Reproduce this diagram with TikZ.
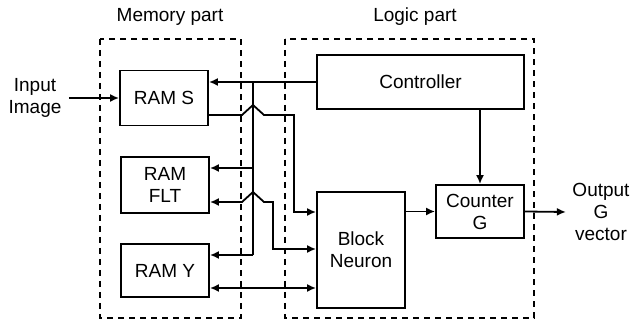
\documentclass[tikz,border=0pt]{standalone}
\usepackage{fontspec}
\setmainfont{Liberation Sans}
\usepackage{tikz}
\usetikzlibrary{positioning,arrows.meta,calc}

\begin{document}
\begin{tikzpicture}[
  x=1pt, y=-1pt,
  every node/.style={font=\fontsize{19}{22}\selectfont},
  blk/.style={draw, line width=1.8pt, inner sep=1pt, align=center},
  part/.style={draw, line width=1.8pt, dash pattern=on 6pt off 5pt},
  arr/.style={-{Latex[length=9pt,width=8pt]}, line width=1.8pt},
  darr/.style={{Latex[length=9pt,width=8pt]}-{Latex[length=9pt,width=8pt]}, line width=1.8pt},
  wire/.style={line width=1.8pt},
]
  \useasboundingbox (0,0) rectangle (630,323);

  % Dashed part frames with titles
  \draw[part] (100,39) rectangle (241,318);
  \draw[part] (285,39) rectangle (534,318);
  \node (memlbl)   at (170,17) {Memory part};
  \node (logiclbl) at (415,17) {Logic part};

  % Memory blocks
  \node[blk, minimum width=88pt, minimum height=55pt] (rams)   at (164,98)    {RAM S};
  \node[blk, minimum width=88pt, minimum height=56pt] (ramflt) at (165,185)   {RAM\\FLT};
  \node[blk, minimum width=88pt, minimum height=53pt] (ramy)   at (165,270.5) {RAM Y};

  % Logic blocks
  \node[blk, minimum width=207pt, minimum height=54pt] (ctrl)    at (420.5,82) {Controller};
  \node[blk, minimum width=88pt, minimum height=116pt] (neuron)  at (361,250)  {Block\\Neuron};
  \node[blk, minimum width=88pt, minimum height=53pt]  (counter) at (480,211.5) {Counter\\G};

  % Input and output texts
  \node[align=center] (input)  at (35,98)  {Input\\Image};
  \node[align=center] (output) at (601,212) {Output\\G\\vector};

  % Control bus from the controller to the RAMs
  \coordinate (bustop) at (253,82);
  \coordinate (busbot) at (253,255);
  \draw[arr] (ctrl.west) -- (ctrl.west -| rams.east);
  \draw[wire] (bustop) -- (busbot);
  \draw[arr] (bustop |- 0,168) -- (ramflt.east |- 0,168);
  \draw[arr] (busbot) -- (ramy.east |- busbot);

  % Data lines to the neuron block, hopping over the bus
  \draw[arr] (rams.east |- 0,115) -- (242,115) -- (253,105) -- (264,115)
    -- (294,115) -- (294,212) -- (neuron.west |- 0,212);
  \draw[darr] (ramflt.east |- 0,202) -- (242,202) -- (253,192) -- (264,202)
    -- (273,202) -- (273,249) -- (neuron.west |- 0,249);
  \draw[darr] (ramy.east |- 0,288) -- (neuron.west |- 0,288);

  % Input, counter and output
  \draw[arr] ($(input.east)+(4,0)$) -- (input.east -| rams.west);
  \draw[arr] (neuron.east |- counter.west) -- (counter.west);
  \draw[arr] (counter.north |- ctrl.south) -- (counter.north);
  \draw[arr] (counter.east) -- ($(output.west)+(-3,0)$);
\end{tikzpicture}
\end{document}
